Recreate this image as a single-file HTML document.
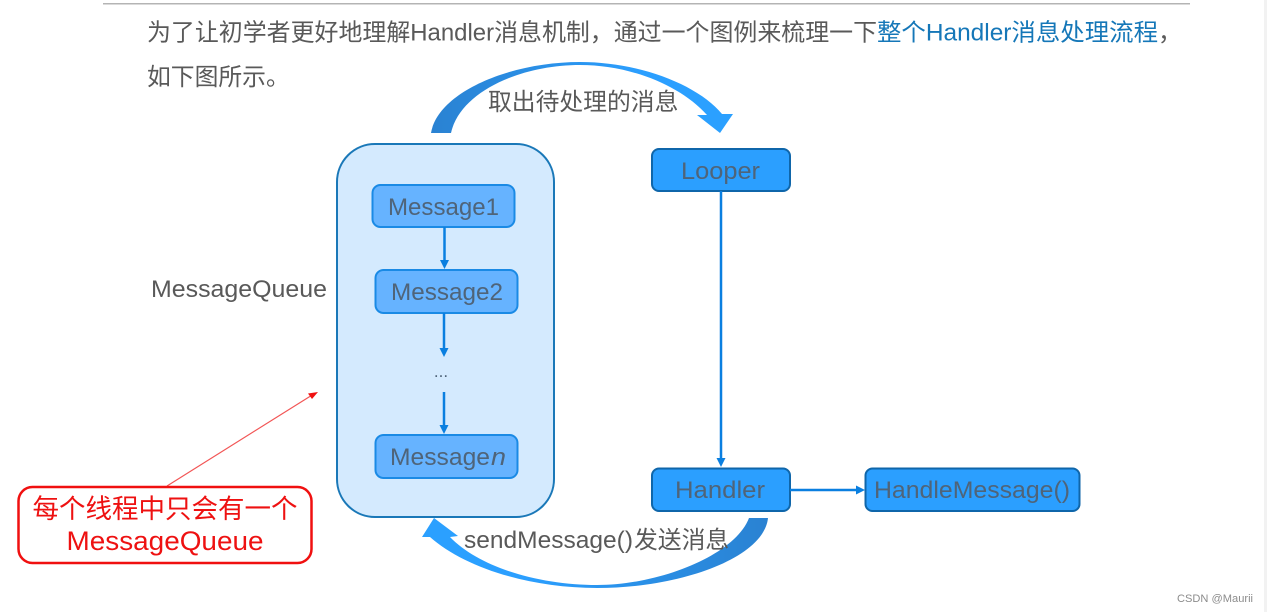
<!DOCTYPE html>
<html>
<head>
<meta charset="utf-8">
<style>
html,body{margin:0;padding:0;background:#fff;width:1267px;height:612px;overflow:hidden}
svg{display:block}
text{font-family:"Liberation Sans","Noto Sans CJK SC",sans-serif}
</style>
</head>
<body>
<svg width="1267" height="612" viewBox="0 0 1267 612" xmlns="http://www.w3.org/2000/svg">
<defs>
<linearGradient id="gt" x1="0" x2="1" y1="0" y2="0"><stop offset="0" stop-color="#2a82d2"/><stop offset=".35" stop-color="#2a8fe6"/><stop offset=".7" stop-color="#2b9fff"/><stop offset="1" stop-color="#2ba0ff"/></linearGradient>
<linearGradient id="gb" x1="1" x2="0" y1="0" y2="0"><stop offset="0" stop-color="#2a82d2"/><stop offset=".35" stop-color="#2a8fe6"/><stop offset=".7" stop-color="#2b9fff"/><stop offset="1" stop-color="#2ba0ff"/></linearGradient>
</defs>
<rect x="1264" y="0" width="3" height="612" fill="#f2f2f2"/>
<rect x="103" y="3" width="1087" height="1.5" fill="#b4b4b4"/>

<text x="147" y="40.500" font-size="24" fill="#595959" textLength="730" lengthAdjust="spacingAndGlyphs">为了让初学者更好地理解Handler消息机制，通过一个图例来梳理一下</text>
<text x="877" y="40.500" font-size="24" fill="#1577b8" textLength="281" lengthAdjust="spacingAndGlyphs">整个Handler消息处理流程</text>
<text x="1158" y="40.500" font-size="24" fill="#595959">，</text>
<text x="147" y="85" font-size="23.800" fill="#595959">如下图所示。</text>

<path d="M431,133 C438,92 510,62 580,62 C640,62 698,85 722,114 L733,114 L720,133 L697,115 L707,115 C680,85 630,65 580,65 C520,65 460,92 451,133 Z" fill="url(#gt)"/>
<text x="488" y="110" font-size="23.800" fill="#595959">取出待处理的消息</text>

<rect x="337" y="144" width="217" height="373" rx="38" fill="#d4eafe" stroke="#1a78b8" stroke-width="2"/>
<g fill="#66b3ff" stroke="#1a8ae5" stroke-width="2">
<rect x="372.500" y="185" width="142" height="42" rx="8"/>
<rect x="375.500" y="270" width="142" height="43" rx="8"/>
<rect x="375.500" y="435" width="142" height="43" rx="8"/>
</g>
<g fill="#2b9fff" stroke="#0f66aa" stroke-width="2">
<rect x="652" y="149" width="138" height="42" rx="7"/>
<rect x="652" y="468.500" width="138" height="42.500" rx="7"/>
<rect x="865.500" y="468.500" width="214" height="42.500" rx="7"/>
</g>

<g font-size="24" fill="#4f6479">
<text x="388" y="215" textLength="111" lengthAdjust="spacingAndGlyphs">Message1</text>
<text x="391" y="300" textLength="112" lengthAdjust="spacingAndGlyphs">Message2</text>
<text x="390" y="465" textLength="100" lengthAdjust="spacingAndGlyphs">Message</text>
<text x="491" y="465" font-style="italic" textLength="15" lengthAdjust="spacingAndGlyphs">n</text>
<text x="681" y="179" textLength="79" lengthAdjust="spacingAndGlyphs">Looper</text>
<text x="675" y="498" textLength="90" lengthAdjust="spacingAndGlyphs">Handler</text>
<text x="874" y="498" textLength="196" lengthAdjust="spacingAndGlyphs">HandleMessage()</text>
</g>

<text x="441" y="377" font-size="17" fill="#4f6479" text-anchor="middle">...</text>

<g stroke="#0a7fe0" stroke-width="2.500" fill="none">
<line x1="444.500" y1="227" x2="444.500" y2="262"/>
<line x1="444" y1="313" x2="444" y2="350"/>
<line x1="444" y1="392" x2="444" y2="427"/>
<line x1="721" y1="191" x2="721" y2="460"/>
<line x1="790" y1="490" x2="858" y2="490"/>
</g>
<g fill="#0a7fe0">
<path d="M440,260 L449,260 L444.500,269 Z"/>
<path d="M439.500,348 L448.500,348 L444,357 Z"/>
<path d="M439.500,425 L448.500,425 L444,434 Z"/>
<path d="M716.500,458 L725.500,458 L721,467 Z"/>
<path d="M856,485.500 L856,494.500 L865,490 Z"/>
</g>

<path d="M768,518 C764,558 680,588 597,588 C530,588 465,568 430,537 L422,537 L434,518 L458,536 L450,537 C480,568 540,585 597,585 C660,585 735,555 749,518 Z" fill="url(#gb)"/>
<text x="464" y="548" font-size="24" fill="#595959" textLength="169" lengthAdjust="spacingAndGlyphs">sendMessage()</text>
<text x="634" y="548" font-size="23.800" fill="#595959">发送消息</text>
<text x="151" y="297" font-size="24" fill="#595959" textLength="176" lengthAdjust="spacingAndGlyphs">MessageQueue</text>

<line x1="167" y1="486" x2="313" y2="394.500" stroke="#f25555" stroke-width="1.200"/>
<path d="M318,392 L308,393.500 L312,399 Z" fill="#f01010"/>
<rect x="18.500" y="487" width="293" height="76" rx="14" fill="#fff" stroke="#f01010" stroke-width="2.500"/>
<text x="165" y="518" font-size="26.500" fill="#ee1111" text-anchor="middle">每个线程中只会有一个</text>
<text x="165" y="550" font-size="26.500" fill="#ee1111" text-anchor="middle" textLength="197" lengthAdjust="spacingAndGlyphs">MessageQueue</text>

<text x="1177" y="602" font-size="11" fill="#8c8c8c" textLength="76" lengthAdjust="spacingAndGlyphs">CSDN @Maurii</text>
</svg>
</body>
</html>
